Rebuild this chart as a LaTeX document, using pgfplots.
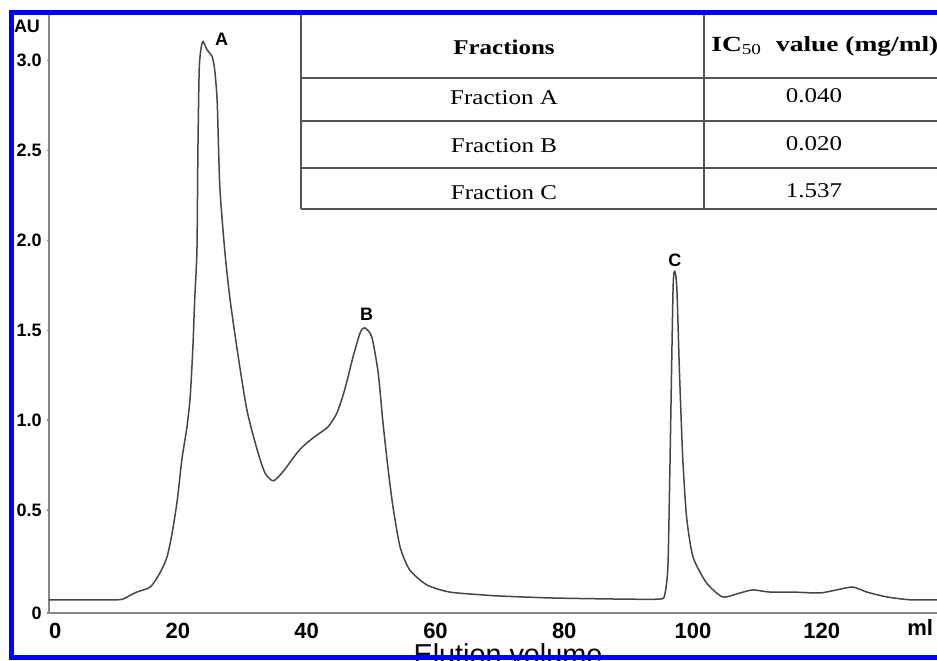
\documentclass[border=0pt]{standalone}
\usepackage{pgfplots}
\pgfplotsset{compat=1.18}
\usepackage{fontspec}
\usepackage{graphicx}
\setmainfont{Liberation Serif}
\newfontfamily\arial{Liberation Sans}
\definecolor{bord}{RGB}{0,0,255}
\definecolor{curve}{RGB}{70,70,70}
\definecolor{axgray}{RGB}{135,135,135}
\definecolor{tabline}{RGB}{85,85,85}
\begin{document}
\begin{tikzpicture}
\useasboundingbox (0,0) rectangle (468.5pt,330pt);
\clip (0,0) rectangle (468.5pt,330pt);
\fill[white] (0,0) rectangle (468.5pt,330pt);
\begin{axis}[
  at={(24.6pt,23.5pt)}, anchor=south west,
  scale only axis, width=443.9pt, height=300.5pt,
  xmin=0, xmax=137.9, ymin=-0.0735, ymax=3.27,
  axis x line=bottom, axis y line=left,
  axis line style={-, axgray, line width=0.9pt},
  xtick={0,20,40,60,80,100,120},
  xticklabels={\hphantom{0}0,20,40,60,80,100,120},
  ytick={-0.0735,0.5,1,1.5,2,2.5,3},
  yticklabels={0,0.5,1.0,1.5,2.0,2.5,3.0},
  x tick style={draw=none},
  y tick style={axgray, line width=0.6pt},
  tick align=outside,
  major tick length=1.3pt,
  xticklabel style={font={\arial\bfseries\fontsize{11}{11}\selectfont}, anchor=north, inner sep=0pt, yshift=-3.5pt},
  yticklabel style={font={\arial\bfseries\fontsize{9}{9}\selectfont}, anchor=east, inner sep=0pt, xshift=-2.3pt},
  clip=false,
]
\addplot[curve, line width=0.75pt, smooth, tension=0.4] coordinates {
(0,0.0) (10.5,0.0) (12.1,0.016) (13.6,0.043) (15.7,0.071) (17.2,0.149)
(18.3,0.238) (19.1,0.372) (19.9,0.556) (20.6,0.778) (21.4,0.962)
(21.9,1.129) (22.3,1.391) (22.6,1.669) (22.95,1.948) (23.1,2.504)
(23.3,2.950) (23.6,3.072) (23.9,3.106) (24.5,3.061) (25.3,3.022)
(25.7,2.950) (26.1,2.766) (26.5,2.298) (27.3,1.931) (28.1,1.669)
(29.2,1.391) (30.7,1.057) (32.3,0.835) (33.5,0.707) (34.8,0.662)
(36.3,0.712) (38.9,0.835) (41.0,0.901) (43.3,0.962) (44.7,1.040)
(45.9,1.169) (47.2,1.352) (48.3,1.486) (49.0,1.513) (50.1,1.463)
(51.1,1.263) (51.8,1.001) (52.6,0.739) (53.4,0.517) (54.5,0.294)
(56.0,0.166) (58.7,0.082) (62.2,0.043) (67.4,0.027) (70.0,0.021)
(78.2,0.010) (88.6,0.004) (94.8,0.004) (95.6,0.027) (96.1,0.183)
(96.4,0.706) (96.9,1.725) (97.2,1.825) (97.5,1.725) (97.9,1.263)
(98.4,0.795) (99.0,0.461) (100.0,0.238) (102.1,0.094) (104.6,0.016)
(107.3,0.038) (109.3,0.055) (111.9,0.043) (115.5,0.043) (119.7,0.038)
(122.3,0.055) (124.8,0.071) (127.0,0.043) (130.1,0.016) (133.7,0.0)
(137.9,0.0)
};
\node[font={\arial\bfseries\fontsize{9}{9}\selectfont}] at (axis cs:26.8,3.117) {A};
\node[font={\arial\bfseries\fontsize{9}{9}\selectfont}] at (axis cs:49.3,1.59) {B};
\node[font={\arial\bfseries\fontsize{9}{9}\selectfont}] at (axis cs:97.2,1.89) {C};
\end{axis}
\begin{scope}[x=0.5pt,y=-0.5pt,shift={(0pt,330pt)}]
  % table
  \draw[tabline, line width=0.8pt] (301,14) -- (301,209);
  \draw[tabline, line width=0.8pt] (704,14) -- (704,209);
  \foreach \yy in {78,121,168,209} {\draw[tabline, line width=0.8pt] (301,\yy) -- (945,\yy);}
  \node[font={\bfseries\fontsize{10.5}{12}\selectfont}] at (504,47) {\scalebox{1.19}[1]{Fractions}};
  \node[font={\fontsize{10.8}{12}\selectfont}, anchor=west, inner sep=0pt] at (711,46) {\scalebox{1.27}[1]{\textbf{IC}\textsubscript{50}\ \ \textbf{value (mg/ml)}}};
  \node[font={\fontsize{10.5}{12}\selectfont}] at (504,98) {\scalebox{1.19}[1]{Fraction A}};
  \node[font={\fontsize{10.5}{12}\selectfont}] at (504,146) {\scalebox{1.19}[1]{Fraction B}};
  \node[font={\fontsize{10.5}{12}\selectfont}] at (504,193) {\scalebox{1.19}[1]{Fraction C}};
  \node[font={\fontsize{10.5}{12}\selectfont}] at (814,96) {\scalebox{1.19}[1]{0.040}};
  \node[font={\fontsize{10.5}{12}\selectfont}] at (814,144) {\scalebox{1.19}[1]{0.020}};
  \node[font={\fontsize{10.5}{12}\selectfont}] at (814,191) {\scalebox{1.19}[1]{1.537}};
  % axis texts
  \node[font={\arial\bfseries\fontsize{9}{9}\selectfont}] at (27,26) {AU};
  \node[font={\arial\bfseries\fontsize{11}{11}\selectfont}, anchor=base west, inner sep=0pt] at (907,635) {ml};
  \node[font={\arial\fontsize{14.4}{14.4}\selectfont}, anchor=base, inner sep=0pt] at (508,664) {Elution volume};
  % blue frame
  \draw[bord, line width=2.6pt] (960,12.5) -- (11.5,12.5) -- (11.5,657.5) -- (960,657.5);
\end{scope}
\end{tikzpicture}
\end{document}
